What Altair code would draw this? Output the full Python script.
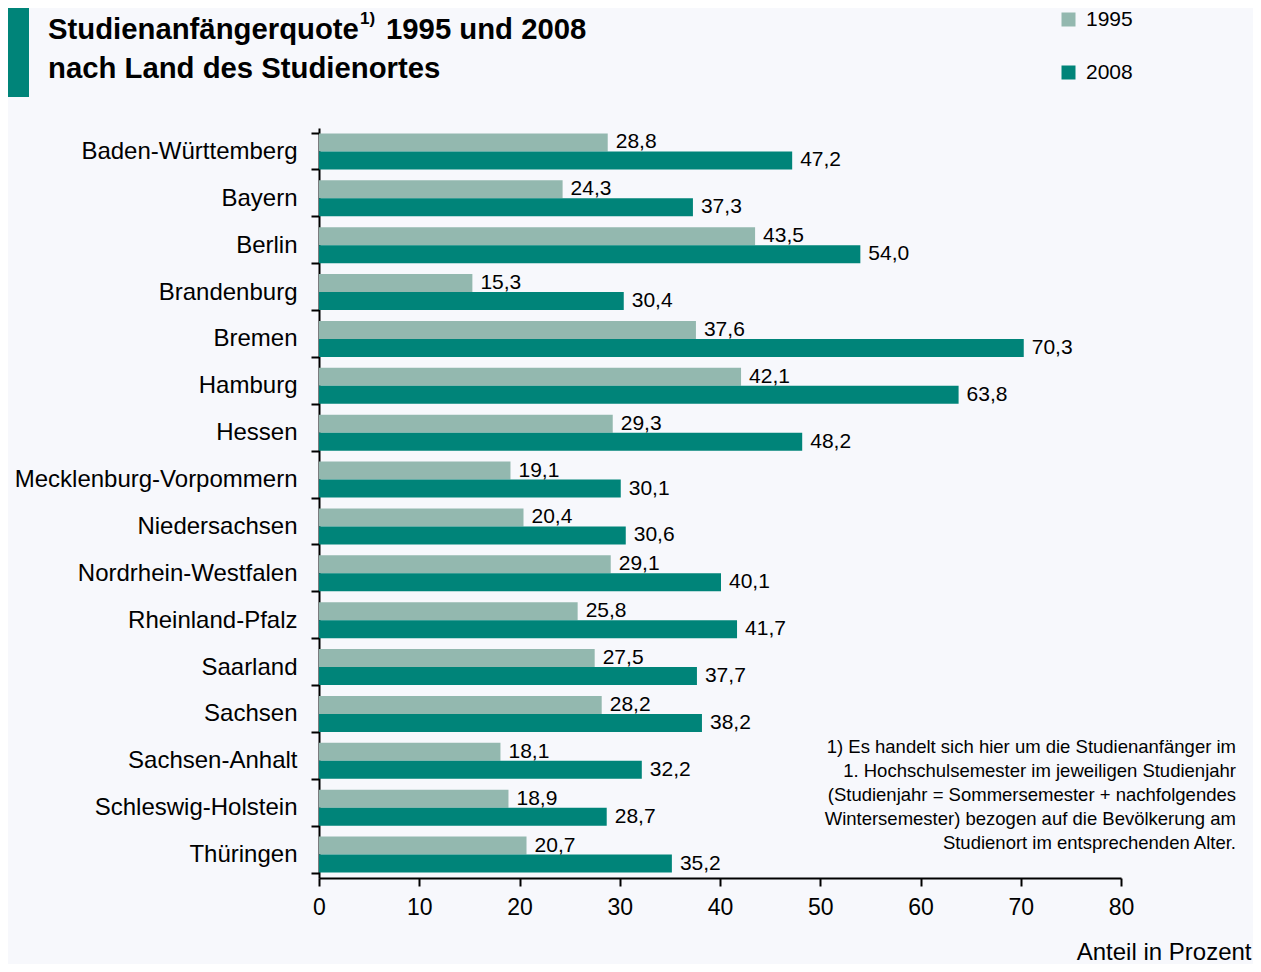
import altair as alt
import pandas as pd

# ---------------- data ----------------
laender = [
    "Baden-Württemberg", "Bayern", "Berlin", "Brandenburg", "Bremen", "Hamburg",
    "Hessen", "Mecklenburg-Vorpommern", "Niedersachsen", "Nordrhein-Westfalen",
    "Rheinland-Pfalz", "Saarland", "Sachsen", "Sachsen-Anhalt",
    "Schleswig-Holstein", "Thüringen",
]
quote_1995 = [28.8, 24.3, 43.5, 15.3, 37.6, 42.1, 29.3, 19.1, 20.4, 29.1,
              25.8, 27.5, 28.2, 18.1, 18.9, 20.7]
quote_2008 = [47.2, 37.3, 54.0, 30.4, 70.3, 63.8, 48.2, 30.1, 30.6, 40.1,
              41.7, 37.7, 38.2, 32.2, 28.7, 35.2]
jahre = ["1995", "2008"]
x_ticks = [0, 10, 20, 30, 40, 50, 60, 70, 80]

title_part1 = "Studienanfängerquote"
title_sup = "1)"
title_part2 = "1995 und 2008"
title_line2 = "nach Land des Studienortes"
x_title = "Anteil in Prozent"
footnote_lines = [
    "1) Es handelt sich hier um die Studienanfänger im",
    "1. Hochschulsemester im jeweiligen Studienjahr",
    "(Studienjahr = Sommersemester + nachfolgendes",
    "Wintersemester) bezogen auf die Bevölkerung am",
    "Studienort im entsprechenden Alter.",
]

rows = []
for i, land in enumerate(laender):
    rows.append({"land": land, "jahr": jahre[0], "wert": quote_1995[i]})
    rows.append({"land": land, "jahr": jahre[1], "wert": quote_2008[i]})
df = pd.DataFrame(rows)

FONT = "Liberation Sans"
C_LIGHT = "#93b8af"
C_DARK = "#008479"
BG = "#f7f8fc"

one = pd.DataFrame({"a": [0]})

base = alt.Chart(df).encode(
    y=alt.Y(
        "land:N",
        sort=laender,
        scale=alt.Scale(paddingInner=0.232, paddingOuter=0.116),
        axis=alt.Axis(
            title=None, tickBand="extent", labelFontSize=24, labelPadding=14,
            tickSize=8, labelFont=FONT, labelColor="black", labelLimit=0,
        ),
    ),
    yOffset=alt.YOffset("jahr:N", sort=jahre),
)

bars = base.mark_bar().encode(
    x=alt.X(
        "wert:Q",
        scale=alt.Scale(domain=[0, 80], nice=False),
        axis=alt.Axis(
            values=x_ticks, title=x_title, labelFontSize=23, labelPadding=10,
            tickSize=8, labelFlush=False, labelFont=FONT, labelColor="black",
            titleFont=FONT, titleFontSize=24, titleFontWeight="normal",
            titleColor="black", titleX=932, titleY=81, titleAlign="right",
            titleBaseline="alphabetic",
        ),
    ),
    color=alt.Color(
        "jahr:N",
        scale=alt.Scale(domain=jahre, range=[C_LIGHT, C_DARK]),
        legend=alt.Legend(
            title=None, orient="none", legendX=739, legendY=-119,
            symbolType="square", symbolSize=196, symbolStrokeWidth=0,
            labelFontSize=21, labelFont=FONT, labelColor="black",
            rowPadding=31, labelOffset=7, padding=0,
        ),
    ),
)

labels = base.mark_text(
    align="left", baseline="middle", dx=8, fontSize=21, font=FONT, color="black"
).encode(
    x=alt.X("wert:Q"),
    text=alt.Text("label:N"),
).transform_calculate(
    label="replace(format(datum.wert, '.1f'), '.', ',')"
)

accent = alt.Chart(one).mark_rect(color=C_DARK).encode(
    x=alt.value(-314), x2=alt.value(-290), y=alt.value(-128), y2=alt.value(-31)
)

t1 = alt.Chart(one).mark_text(
    text=title_part1, align="left", baseline="middle", fontSize=29.3,
    fontWeight="bold", font=FONT, color="black",
).encode(x=alt.value(-271), y=alt.value(-98))

tsup = alt.Chart(one).mark_text(
    text=title_sup, align="left", baseline="middle", fontSize=17,
    fontWeight="bold", font=FONT, color="black",
).encode(x=alt.value(41), y=alt.value(-109))

t2 = alt.Chart(one).mark_text(
    text=title_part2, align="left", baseline="middle", fontSize=29.3,
    fontWeight="bold", font=FONT, color="black",
).encode(x=alt.value(67), y=alt.value(-98))

t3 = alt.Chart(one).mark_text(
    text=title_line2, align="left", baseline="middle", fontSize=29.3,
    fontWeight="bold", font=FONT, color="black",
).encode(x=alt.value(-271), y=alt.value(-59))

foot = alt.Chart(one).mark_text(
    text=footnote_lines, align="right", baseline="middle", fontSize=18.5,
    lineHeight=24, font=FONT, color="black",
).encode(x=alt.value(917), y=alt.value(619))

chart = alt.layer(bars, labels, accent, t1, tsup, t2, t3, foot).properties(
    width=802,
    height=750,
    autosize=alt.AutoSizeParams(type="none"),
    padding={"left": 311, "top": 120, "right": 132, "bottom": 86},
    background=BG,
).configure_view(
    stroke=None
).configure_axis(
    domainColor="black", domainWidth=2, tickColor="black", tickWidth=2,
    grid=False,
)

chart.save("out.html", embed_options={"renderer": "svg", "actions": False})
